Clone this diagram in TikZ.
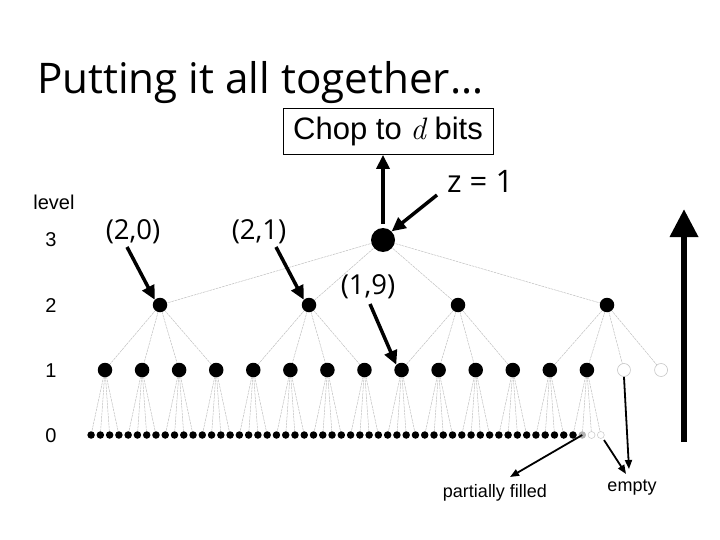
\documentclass[tikz,border=0pt]{standalone}
\usepackage{fontspec}
\setmainfont{Open Sans}
\newfontfamily\arial{Liberation Sans}
\newfontfamily\lmr{Latin Modern Roman}
\usetikzlibrary{arrows.meta}
\tikzset{
  edge/.style={draw=gray!50, line width=0.5pt, dash pattern=on 2.5pt off 0.8pt},
  bignode/.style={circle, fill=black, inner sep=0pt, minimum size=24pt},
  midnode/.style={circle, fill=black, inner sep=0pt, minimum size=14.5pt},
  emptymid/.style={circle, draw=gray!45, fill=white, line width=0.6pt, inner sep=0pt, minimum size=13pt},
  leaf/.style={circle, fill=black, inner sep=0pt, minimum size=7.5pt},
  emptyleaf/.style={circle, draw=gray!45, fill=white, line width=0.5pt, inner sep=0pt, minimum size=7pt},
  partleaf/.style={circle, fill=gray!60, inner sep=0pt, minimum size=7.5pt},
  lbl/.style={font=\arial\fontsize{20}{23}\selectfont, inner sep=0pt},
  btmlbl/.style={font=\arial\fontsize{18}{21}\selectfont, inner sep=0pt},
  pairlbl/.style={font=\fontsize{27.5}{31}\selectfont, inner sep=0pt},
  fatarrow/.style={line width=3.5pt, -{Triangle[length=14pt, width=13pt]}},
  thinarrow/.style={line width=1.8pt, -{Triangle[length=9pt, width=7pt]}},
}
\begin{document}
\begin{tikzpicture}[x=1pt,y=-1pt]
\useasboundingbox (0,0) rectangle (720,540);
% title
\node[anchor=base west, inner sep=0pt] (title) at (37,94) {\resizebox{446pt}{!}{\fontsize{40}{48}\selectfont Putting it all together\ldots}};
% level labels
\node[lbl, anchor=base] (lvl) at (54,210) {level};
\node[lbl, anchor=base] (l3) at (51,247) {3};
\node[lbl, anchor=base] (l2) at (51,312) {2};
\node[lbl, anchor=base] (l1) at (51,377) {1};
\node[lbl, anchor=base] (l0) at (51,442) {0};
% tree node positions
\coordinate (root) at (383,240);
\foreach \j in {0,...,3} {
  \coordinate (m\j) at ({160+\j*149},305);
}
\foreach \i in {0,...,15} {
  \coordinate (n\i) at ({105+\i*37.07},370);
}
\foreach \i in {0,...,13} {
  \foreach \k in {0,...,3} {
    \pgfmathtruncatemacro{\idx}{\i*4+\k}
    \coordinate (f\idx) at ({105+\i*37.07+(\k-1.5)*9.27},435);
  }
}
% edges
\foreach \j in {0,...,3} { \draw[edge] (root) -- (m\j); }
\foreach \i in {0,...,15} {
  \pgfmathtruncatemacro{\pp}{floor(\i/4)}
  \draw[edge] (m\pp) -- (n\i);
}
\foreach \i in {0,...,13} {
  \foreach \k in {0,...,3} {
    \pgfmathtruncatemacro{\idx}{\i*4+\k}
    \draw[edge] (n\i) -- (f\idx);
  }
}
% nodes
\node[bignode] (R) at (root) {};
\foreach \j in {0,...,3} { \node[midnode] (M\j) at (m\j) {}; }
\foreach \i in {0,...,13} { \node[midnode] (N\i) at (n\i) {}; }
\node[emptymid] (N14) at (n14) {};
\node[emptymid] (N15) at (n15) {};
\foreach \idx in {0,...,52} { \node[leaf] (F\idx) at (f\idx) {}; }
\node[partleaf] (F53) at (f53) {};
\node[emptyleaf] (F54) at (f54) {};
\node[emptyleaf] (F55) at (f55) {};
% chop box
\node[draw=black, line width=0.8pt, minimum width=210pt, minimum height=46pt, inner sep=0pt,
  font=\arial\fontsize{31}{34}\selectfont] (chop) at (388,131.5) {Chop to {\lmr\itshape d} bits};
\node[inner sep=0pt, font=\fontsize{31}{34}\selectfont, anchor=base west] (z) at (447,193) {z = 1};
\draw[fatarrow] (R.north) ++(0,-4) coordinate (rt) -- (rt |- chop.south);
\coordinate (zs) at (437,195);
\draw[fatarrow] (zs) -- (R.north east);
% pair labels
\node[pairlbl, anchor=base] (p20) at (133,240) {(2,0)};
\node[pairlbl, anchor=base] (p21) at (259,240) {(2,1)};
\node[pairlbl, anchor=base] (p19) at (368,294) {(1,9)};
\coordinate (a20) at (127,247);
\coordinate (a21) at (276,247);
\coordinate (a19) at (370,304);
\draw[fatarrow] (a20) -- (M0.north west);
\draw[fatarrow] (a21) -- (M1.north west);
\draw[fatarrow] (a19) -- (N8.north west);
% big arrow
\coordinate (bb) at (684,442);
\coordinate (bt) at (684,209);
\draw[line width=6.5pt, -{Triangle[length=28pt, width=27pt]}] (bb) -- (bt);
% bottom labels
\node[btmlbl] (pf) at (495,493) {partially filled};
\node[btmlbl] (em) at (632,488) {empty};
\draw[thinarrow] (F53.center) -- (510,477);
\coordinate (e1) at (604,440);
\draw[thinarrow] (e1) -- (626,474);
\draw[thinarrow] (N14.south) -- (629,469);
\end{tikzpicture}
\end{document}
